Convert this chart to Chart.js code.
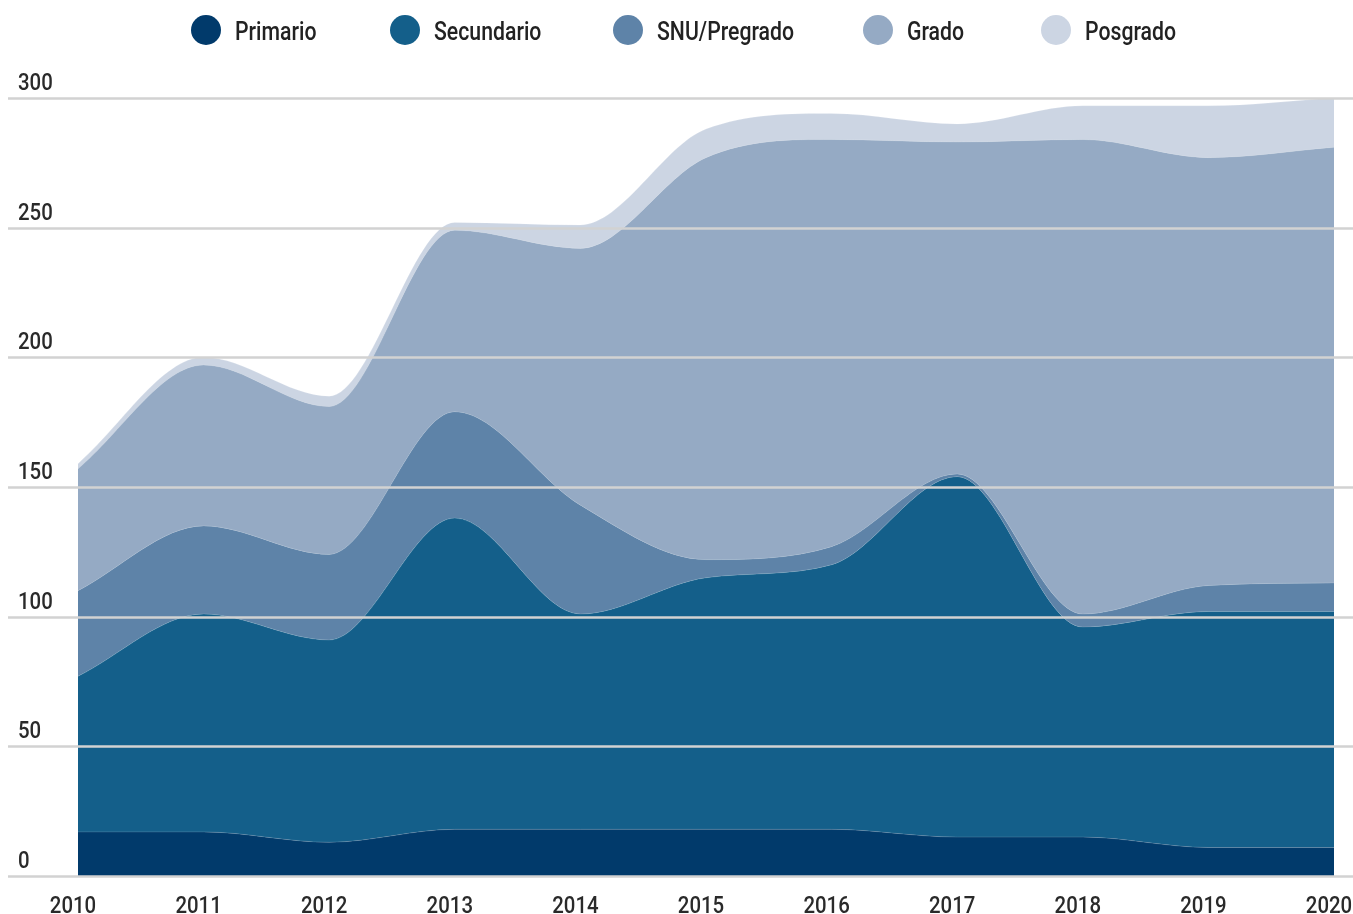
<!DOCTYPE html>
<html lang="es">
<head>
    <meta charset="UTF-8">
    <title>Primario, Secundario, SNU/Pregrado, Grado, Posgrado</title>
    <script src="https://cdn.jsdelivr.net/npm/chart.js"></script>
    <style>
        body { margin: 0; background: #fff; font-family: "Roboto", sans-serif; }
        .wrap { position: relative; width: 1353px; height: 914px; }
        #legend { position: absolute; top: 0; left: 0; width: 100%; height: 60px; }
        #legend .dot { position: absolute; top: 15px; width: 30px; height: 30px; border-radius: 50%; }
        #legend .txt {
            position: absolute; top: 17px; line-height: 30px;
            font-size: 25px; font-weight: 500; color: #222;
            transform: scaleX(0.85); transform-origin: left center; white-space: nowrap;
        }
    </style>
</head>
<body>
    <div class="wrap">
        <div id="legend"></div>
        <canvas id="areaChart" width="1353" height="914"></canvas>
    </div>

    <script>
        const years = ['2010', '2011', '2012', '2013', '2014', '2015', '2016', '2017', '2018', '2019', '2020'];
        const primario   = [17, 17, 13, 18, 18, 18, 18, 15, 15, 11, 11];
        const secundario = [60, 84, 78, 120, 83, 97, 102, 139, 81, 91, 91];
        const snu        = [33, 34, 33, 41, 42, 7, 7, 1, 5, 10, 11];
        const grado      = [47, 62, 57, 70, 99, 155, 157, 128, 183, 165, 168];
        const posgrado   = [2, 3, 4, 3, 9, 11, 10, 7, 13, 20, 19];
        const yTicks = [0, 50, 100, 150, 200, 250, 300];

        const labelFont = '500 24px Roboto, sans-serif';
        const squeeze = 0.85;

        const series = [
            { label: 'Primario', data: primario, color: '#013a6b' },
            { label: 'Secundario', data: secundario, color: '#145f8a' },
            { label: 'SNU/Pregrado', data: snu, color: '#5e83a8' },
            { label: 'Grado', data: grado, color: '#95aac4' },
            { label: 'Posgrado', data: posgrado, color: '#ccd5e3' }
        ];

        // legend as html, one slot per series
        const legendX = [191, 390, 613, 863, 1041];
        const legend = document.getElementById('legend');
        series.forEach((s, i) => {
            const dot = document.createElement('span');
            dot.className = 'dot';
            dot.style.left = legendX[i] + 'px';
            dot.style.background = s.color;
            const txt = document.createElement('span');
            txt.className = 'txt';
            txt.style.left = (legendX[i] + 44) + 'px';
            txt.textContent = s.label;
            legend.appendChild(dot);
            legend.appendChild(txt);
        });

        function drawText(ctx, text, x, y, align) {
            ctx.save();
            ctx.translate(x, y);
            ctx.scale(squeeze, 1);
            ctx.textAlign = align;
            ctx.fillText(text, 0, 0);
            ctx.restore();
        }

        // grid lines drawn over the areas, labels sit above each line
        const gridOver = {
            id: 'gridOver',
            afterDatasetsDraw(chart) {
                const ctx = chart.ctx;
                const y = chart.scales.y;
                const x = chart.scales.x;
                ctx.save();
                ctx.strokeStyle = '#d2d2d2';
                ctx.lineWidth = 2.5;
                ctx.fillStyle = '#2a2a2a';
                ctx.font = labelFont;
                ctx.textBaseline = 'alphabetic';
                yTicks.forEach(v => {
                    const py = Math.round(y.getPixelForValue(v)) + 0.5;
                    ctx.beginPath();
                    ctx.moveTo(8, py);
                    ctx.lineTo(chart.width, py);
                    ctx.stroke();
                    drawText(ctx, String(v), 18, py - 9, 'left');
                });
                years.forEach((yr, i) => {
                    drawText(ctx, yr, x.getPixelForValue(i) - 5, 913, 'center');
                });
                ctx.restore();
            }
        };

        new Chart(document.getElementById('areaChart'), {
            type: 'line',
            data: {
                labels: years,
                datasets: series.map((s, i) => ({
                    label: s.label,
                    data: s.data,
                    backgroundColor: s.color,
                    borderColor: 'rgba(255,255,255,0.15)',
                    borderWidth: 1,
                    fill: i === 0 ? 'origin' : '-1',
                    pointRadius: 0,
                    cubicInterpolationMode: 'monotone'
                }))
            },
            options: {
                responsive: false,
                animation: false,
                layout: { padding: { left: 78, right: 19, top: 98, bottom: 0 } },
                plugins: { legend: { display: false }, tooltip: { enabled: false } },
                scales: {
                    x: {
                        grid: { display: false, drawTicks: false },
                        border: { display: false },
                        ticks: { display: false },
                        afterFit(scale) {
                            scale.height = 38;
                            scale.paddingLeft = 0;
                            scale.paddingRight = 0;
                        }
                    },
                    y: {
                        display: false,
                        stacked: true,
                        min: 0,
                        max: 300
                    }
                }
            },
            plugins: [gridOver]
        });
    </script>
</body>
</html>
